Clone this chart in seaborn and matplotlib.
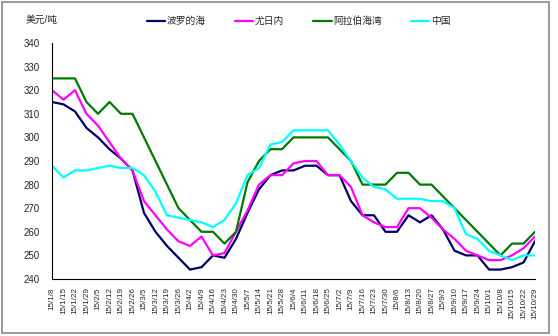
import matplotlib
matplotlib.use("Agg")
import matplotlib.pyplot as plt
import matplotlib.patches as mpatches
import seaborn as sns
import pandas as pd

dates = ["15/1/8", "15/1/15", "15/1/22", "15/1/29", "15/2/5", "15/2/12", "15/2/19", "15/2/26",
         "15/3/5", "15/3/12", "15/3/19", "15/3/26", "15/4/2", "15/4/9", "15/4/16", "15/4/23",
         "15/4/30", "15/5/7", "15/5/14", "15/5/21", "15/5/28", "15/6/4", "15/6/11", "15/6/18",
         "15/6/25", "15/7/2", "15/7/9", "15/7/16", "15/7/23", "15/7/30", "15/8/6", "15/8/13",
         "15/8/20", "15/8/27", "15/9/3", "15/9/10", "15/9/17", "15/9/24", "15/10/1", "15/10/8",
         "15/10/15", "15/10/22", "15/10/29"]

baltic = [315, 314, 311, 304, 300, 295, 291, 286, 268, 260, 254, 249, 244, 245, 250, 249,
          257, 268, 278, 284, 286, 286, 288, 288, 284, 284, 273, 267, 267, 260, 260, 267,
          264, 267, 261, 252, 250, 250, 244, 244, 245, 247, 256]
yuzhny = [320, 316, 320, 310, 305, 298, 291, 286, 273, 267, 261, 256, 254, 258, 250, 251,
          260, 269, 280, 284, 284, 289, 290, 290, 284, 284, 279, 267, 264, 262, 262, 270,
          270, 266, 261, 257, 252, 250, 248, 248, 250, 253, 258]
gulf = [325, 325, 325, 315, 310, 315, 310, 310, 300, 290, 280, 270, 265, 260, 260, 255,
        260, 281, 290, 295, 295, 300, 300, 300, 300, 295, 290, 280, 280, 280, 285, 285,
        280, 280, 275, 270, 265, 260, 255, 250, 255, 255, 260]
china = [288, 283, 286, 286, 287, 288, 287, 287, 284, 277, 267, 266, 265, 264, 262, 265,
         272, 284, 287, 297, 298, 303, 303, 303, 303, 297, 290, 283, 279, 278, 274, 274,
         274, 273, 273, 270, 259, 257, 252, 250, 248, 250, 250]

series_names = ["波罗的海", "尤日内", "阿拉伯海湾", "中国"]
series_colors = ["#000066", "#FF00FF", "#007A00", "#00FFFF"]
yticks = list(range(240, 341, 10))

rows = []
for name, vals in zip(series_names, [baltic, yuzhny, gulf, china]):
    for i, v in enumerate(vals):
        rows.append({"idx": i, "value": v, "series": name})
df = pd.DataFrame(rows)

sns.set_theme(style="white")
plt.rcParams["font.family"] = ["Liberation Sans", "Noto Sans CJK SC", "DejaVu Sans"]

fig = plt.figure(figsize=(5.58, 3.36), dpi=100)
ax = fig.add_axes([52 / 558, 1 - 279 / 336, (535 - 52) / 558, (279 - 43) / 336])

sns.lineplot(data=df, x="idx", y="value", hue="series", hue_order=series_names,
             palette=series_colors, linewidth=1.6, ax=ax, legend=False)

ax.set_xlim(0, len(dates) - 1)
ax.set_ylim(240, 340)
ax.set_xticks(range(len(dates)))
ax.set_xticklabels(dates, rotation=90, fontsize=5.8)
ax.set_yticks(yticks)
ax.set_yticklabels([str(t) for t in yticks], fontsize=7)
ax.set_xlabel("")
ax.set_ylabel("")
for s in ["top", "right"]:
    ax.spines[s].set_visible(False)
for s in ["left", "bottom"]:
    ax.spines[s].set_color("black")
    ax.spines[s].set_linewidth(0.8)
ax.tick_params(axis="x", direction="inout", length=4, width=0.7, color="black", pad=4)
ax.tick_params(axis="y", direction="out", length=3, width=0.7, color="black", pad=6)

handles = [plt.Line2D([], [], color=c, lw=1.6) for c in series_colors]
fig.legend(handles, series_names, loc="center", bbox_to_anchor=(0.535, 1 - 21 / 336),
           ncol=4, frameon=False, fontsize=7, handlelength=1.9, handletextpad=0.15,
           columnspacing=3.0)

fig.text(26 / 558, 1 - 20 / 336, "美元/吨", fontsize=7, va="center", ha="left")

fig.patches.append(mpatches.Rectangle((0.004, 0.01), 0.98, 0.983, transform=fig.transFigure,
                                      fill=False, edgecolor="#888888", linewidth=1.2))

fig.savefig("out.png", dpi=100)
